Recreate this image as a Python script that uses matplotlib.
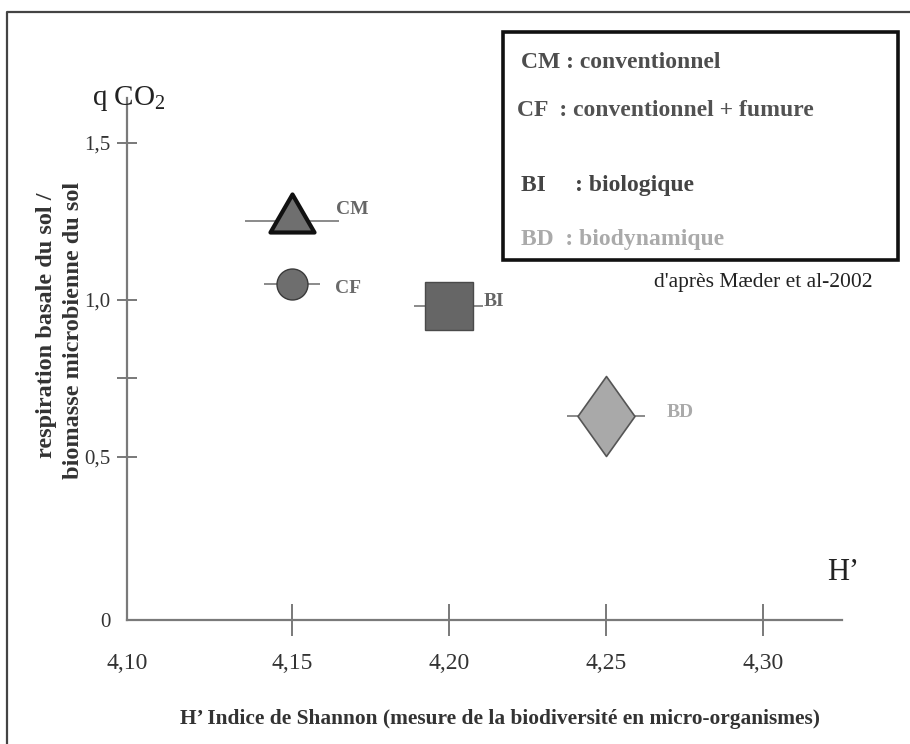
import matplotlib
matplotlib.use("Agg")
import matplotlib.pyplot as plt
from matplotlib.path import Path
from matplotlib.patches import Rectangle
from matplotlib.lines import Line2D

plt.rcParams['font.family'] = ['Liberation Serif', 'DejaVu Serif']
plt.rcParams['mathtext.fontset'] = 'custom'
plt.rcParams['mathtext.rm'] = 'Liberation Serif'

# data
codes = ['CM', 'CF', 'BI', 'BD']
shannon = [4.15, 4.15, 4.20, 4.25]
qco2 = [1.25, 1.05, 0.98, 0.63]
shannon_err = [0.015, 0.009, 0.011, 0.0125]

xtick_vals = [4.15, 4.20, 4.25, 4.30]
xtick_labels = ['4,10', '4,15', '4,20', '4,25', '4,30']
ytick_vals = [0.5, 0.75, 1.0, 1.5]
ytick_labels = ['0', '0,5', '', '1,0', '1,5']

legend_lines = ['CM : conventionnel', 'CF  : conventionnel + fumure',
                'BI     : biologique', 'BD  : biodynamique']

W, H = 910, 744
def fx(x):
    return x / W
def fy(y):
    return 1 - y / H

# marker shapes (px offsets around the data point)
tri = Path([(0, 27), (-22, -11), (22, -11), (0, 27)],
           [Path.MOVETO, Path.LINETO, Path.LINETO, Path.CLOSEPOLY])
dia = Path([(0, 40), (-28.5, 0), (0, -40), (28.5, 0), (0, 40)],
           [Path.MOVETO, Path.LINETO, Path.LINETO, Path.LINETO, Path.CLOSEPOLY])
markers = [tri, 'o', 's', dia]
msizes = [38.9, 22.3, 34.6, 57.6]
faces = ['#6f6f6f', '#6e6e6e', '#666666', '#a9a9a9']
edges = ['#111111', '#3a3a3a', '#4a4a4a', '#555555']
ewidths = [3.0, 1.0, 1.0, 1.2]
lab_colors = ['#666666', '#6a6a6a', '#666666', '#aaaaaa']
lab_offsets = [(31.7, 8.6), (31, -2.9), (25, 3.6), (44, 2.9)]

fig = plt.figure(figsize=(9.1, 7.44), dpi=100)
ax = fig.add_axes([fx(127), fy(620), fx(842) - fx(127), fy(98) - fy(620)])

xmin, xmax = 4.0975, 4.3252
ymin, ymax = -0.019, 1.643
ax.set_xlim(xmin, xmax)
ax.set_ylim(ymin, ymax)

for i in range(len(codes)):
    ax.errorbar(shannon[i], qco2[i], xerr=shannon_err[i], fmt='none',
                ecolor='#777777', elinewidth=1.2, capsize=0, zorder=2)
    ax.plot(shannon[i], qco2[i], marker=markers[i], markersize=msizes[i],
            markerfacecolor=faces[i], markeredgecolor=edges[i],
            markeredgewidth=ewidths[i], linestyle='', zorder=3)
    ax.annotate(codes[i], (shannon[i], qco2[i]), xytext=lab_offsets[i],
                textcoords='offset points', ha='left', va='center',
                fontsize=14, fontweight='bold', color=lab_colors[i])

for s in ['top', 'right']:
    ax.spines[s].set_visible(False)
for s in ['left', 'bottom']:
    ax.spines[s].set_color('#7a7a7a')
    ax.spines[s].set_linewidth(1.6)

ax.set_xticks([xmin] + xtick_vals)
ax.set_xticklabels(xtick_labels, fontsize=17, color='#333333')
ax.set_yticks([ymin] + ytick_vals)
ax.set_yticklabels(ytick_labels, fontsize=15, color='#333333')
ax.tick_params(axis='x', direction='inout', length=23, width=1.1,
               color='#555555', pad=12)
ax.tick_params(axis='y', direction='inout', length=14, width=1.1,
               color='#555555', pad=5)
ax.xaxis.get_major_ticks()[0].tick1line.set_visible(False)
ax.yaxis.get_major_ticks()[0].tick1line.set_visible(False)

# axis titles
fig.text(fx(92), fy(105), 'q CO$_\\mathrm{2}$', fontsize=21, va='baseline',
         ha='left', color='#222222')
fig.text(fx(827), fy(580), 'H\u2019', fontsize=22, va='baseline',
         ha='left', color='#222222')
fig.text(fx(47), fy(325), 'respiration basale du sol /', rotation=90,
         fontsize=17.5, fontweight='bold', ha='center', va='center',
         color='#333333')
fig.text(fx(74), fy(330), 'biomasse microbienne du sol', rotation=90,
         fontsize=17.5, fontweight='bold', ha='center', va='center',
         color='#333333')
fig.text(fx(500), fy(719),
         'H\u2019 Indice de Shannon (mesure de la biodiversit\u00e9 en micro-organismes)',
         fontsize=15.4, fontweight='bold', ha='center', va='center',
         color='#333333')

# legend box
fig.patches.append(Rectangle((fx(503), fy(260)), fx(898) - fx(503),
                             fy(32) - fy(260), transform=fig.transFigure,
                             fill=False, edgecolor='#111111', linewidth=2.6))
leg_x = [521, 517, 521, 521]
leg_y = [63, 110, 185, 240]
leg_colors = ['#4d4d4d', '#525252', '#444444', '#aaaaaa']
for i in range(len(legend_lines)):
    fig.text(fx(leg_x[i]), fy(leg_y[i]), legend_lines[i], fontsize=17,
             fontweight='bold', ha='left', va='center', color=leg_colors[i])
fig.text(fx(872), fy(283), "d'apr\u00e8s M\u00e6der et al-2002", fontsize=15.5,
         ha='right', va='center', color='#222222')

# outer frame (left and top edges visible)
fig.lines.append(Line2D([fx(7), fx(7), fx(912)], [fy(746), fy(12), fy(12)],
                        transform=fig.transFigure, color='#444444',
                        linewidth=1.6))

fig.savefig('out.png', dpi=100)
